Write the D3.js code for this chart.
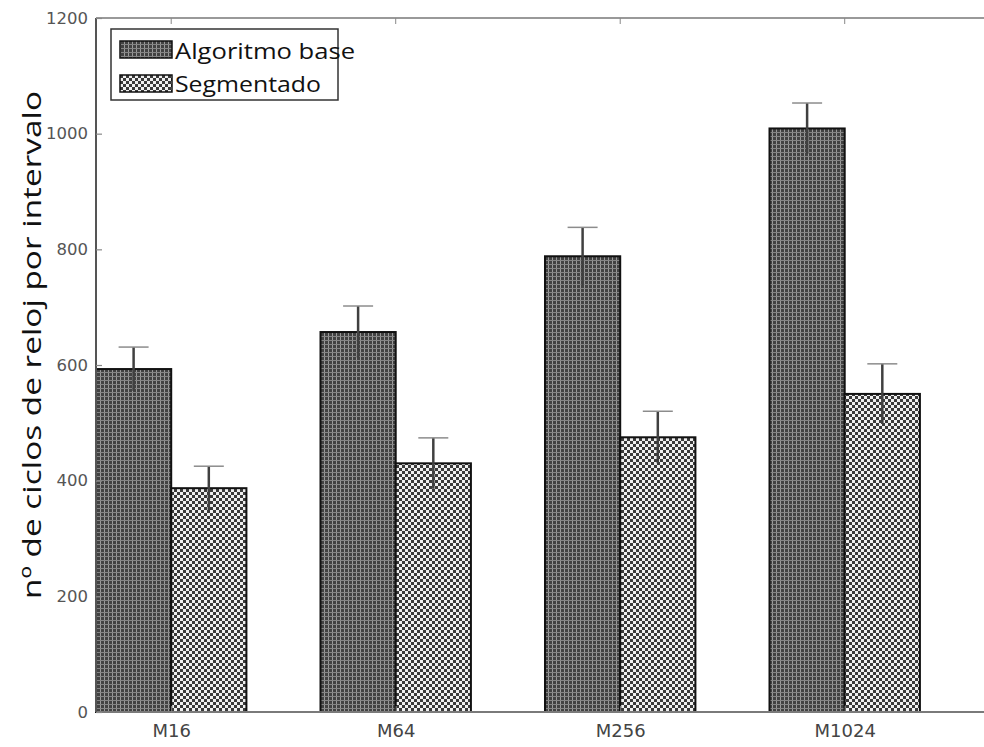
<!DOCTYPE html>
<html><head><meta charset="utf-8">
<script src="https://cdn.jsdelivr.net/npm/d3@7"></script>
<style>body{margin:0;background:#fff}svg{display:block}</style>
</head><body>
<svg id="c" width="984" height="747"></svg>
<script>
const categories = ["M16", "M64", "M256", "M1024"];
const seriesNames = ["Algoritmo base", "Segmentado"];
const baseValues = [593, 657, 788, 1009];
const baseErrors = [38, 45, 50, 44];
const segValues = [387, 430, 475, 550];
const segErrors = [38, 44, 45, 52];
const yTicks = [0, 200, 400, 600, 800, 1000, 1200];

const W = 984, H = 747;
const m = {left: 96, top: 18, bottom: 712, right: 994};
const svg = d3.select("#c");
const defs = svg.append("defs");

// dark grid pattern
const pd = defs.append("pattern").attr("id", "pDark").attr("patternUnits", "userSpaceOnUse")
  .attr("width", 4).attr("height", 4);
pd.append("rect").attr("width", 4).attr("height", 4).attr("fill", "#424242");
pd.append("rect").attr("x", 0).attr("y", 0).attr("width", 1).attr("height", 4).attr("fill", "#9a9a9a");
pd.append("rect").attr("x", 0).attr("y", 0).attr("width", 4).attr("height", 1).attr("fill", "#858585");

// checker pattern
const pc = defs.append("pattern").attr("id", "pCheck").attr("patternUnits", "userSpaceOnUse")
  .attr("width", 6).attr("height", 6);
pc.append("rect").attr("width", 6).attr("height", 6).attr("fill", "#3a3a3a");
pc.append("rect").attr("x", 0).attr("y", 0).attr("width", 3).attr("height", 3).attr("fill", "#f0f0f0");
pc.append("rect").attr("x", 3).attr("y", 3).attr("width", 3).attr("height", 3).attr("fill", "#f0f0f0");

const x = d3.scaleLinear().domain([0, 4]).range([m.left, m.right]);
const y = d3.scaleLinear().domain([0, 1200]).range([m.bottom, m.top]);
const bw = 0.335;

const rows = categories.map((c, i) => ({c, i, base: baseValues[i], be: baseErrors[i], seg: segValues[i], se: segErrors[i]}));

const g = svg.append("g");
function drawSeries(key, errKey, offset, fill) {
  g.selectAll(null).data(rows).enter().append("rect")
    .attr("x", d => x(d.i + offset))
    .attr("y", d => y(d[key]))
    .attr("width", d => x(d.i + offset + bw) - x(d.i + offset))
    .attr("height", d => y(0) - y(d[key]))
    .attr("fill", fill).attr("stroke", "#111").attr("stroke-width", 2);
  const cx = d => x(d.i + offset + bw / 2);
  g.selectAll(null).data(rows).enter().append("line")
    .attr("x1", cx).attr("x2", cx)
    .attr("y1", d => y(d[key] + d[errKey])).attr("y2", d => y(d[key] - d[errKey]))
    .attr("stroke", "#404040").attr("stroke-width", 2.5);
  g.selectAll(null).data(rows).enter().append("line")
    .attr("x1", d => cx(d) - 15).attr("x2", d => cx(d) + 15)
    .attr("y1", d => y(d[key] + d[errKey])).attr("y2", d => y(d[key] + d[errKey]))
    .attr("stroke", "#8c8c8c").attr("stroke-width", 1.5);
}
drawSeries("base", "be", 0, "url(#pDark)");
drawSeries("seg", "se", bw, "url(#pCheck)");

// spines
svg.append("line").attr("x1", m.left).attr("x2", W).attr("y1", m.top).attr("y2", m.top).attr("stroke", "#999").attr("stroke-width", 2);
svg.append("line").attr("x1", m.left).attr("x2", W).attr("y1", m.bottom).attr("y2", m.bottom).attr("stroke", "#7a7a7a").attr("stroke-width", 2);
svg.append("line").attr("x1", m.left).attr("x2", m.left).attr("y1", m.top).attr("y2", m.bottom).attr("stroke", "#555").attr("stroke-width", 2);

// y axis
const yAxis = d3.axisLeft(y).tickValues(yTicks).tickSize(-6).tickPadding(8).tickFormat(d3.format("d"));
const ya = svg.append("g").attr("transform", `translate(${m.left},0)`).call(yAxis);
ya.select(".domain").remove();
ya.selectAll(".tick line").attr("stroke", "#888").attr("stroke-width", 1.2);
ya.selectAll(".tick text")
  .attr("font-family", "DejaVu Sans").attr("font-size", 16.5).attr("fill", "#555");

// x axis
const tickPos = categories.map((c, i) => i + bw);
const xAxis = d3.axisBottom(x).tickValues(tickPos).tickSize(-6).tickPadding(0).tickFormat((d, i) => categories[i]);
const xa = svg.append("g").attr("transform", `translate(0,${m.bottom})`).call(xAxis);
xa.select(".domain").remove();
xa.selectAll(".tick line").attr("stroke", "#888");
xa.selectAll(".tick text")
  .attr("y", 25).attr("dy", null)
  .attr("font-family", "DejaVu Sans").attr("font-size", 18).attr("fill", "#444");
// top ticks
svg.selectAll(null).data(tickPos).enter().append("line")
  .attr("x1", d => x(d)).attr("x2", d => x(d)).attr("y1", m.top).attr("y2", m.top + 6)
  .attr("stroke", "#888");

// y label
svg.append("text").attr("transform", `translate(41,345) rotate(-90)`)
  .attr("text-anchor", "middle").attr("font-family", "Open Sans").attr("font-size", 26)
  .attr("textLength", 508).attr("lengthAdjust", "spacingAndGlyphs")
  .attr("fill", "#111").text("nº de ciclos de reloj por intervalo");

// legend
const lg = svg.append("g");
lg.append("rect").attr("x", 111).attr("y", 29).attr("width", 227).attr("height", 71)
  .attr("fill", "#fff").attr("stroke", "#333").attr("stroke-width", 1.5);
const lfills = ["url(#pDark)", "url(#pCheck)"];
const lwidths = [180, 146];
seriesNames.forEach((s, i) => {
  lg.append("rect").attr("x", 120).attr("y", 41 + i * 34).attr("width", 52).attr("height", 17)
    .attr("fill", lfills[i]).attr("stroke", "#111").attr("stroke-width", 1.5);
  lg.append("text").attr("x", 175).attr("y", 59 + i * 33).attr("font-family", "Open Sans")
    .attr("font-size", 22).attr("textLength", lwidths[i]).attr("lengthAdjust", "spacingAndGlyphs")
    .attr("fill", "#111").text(s);
});
</script>
</body></html>
